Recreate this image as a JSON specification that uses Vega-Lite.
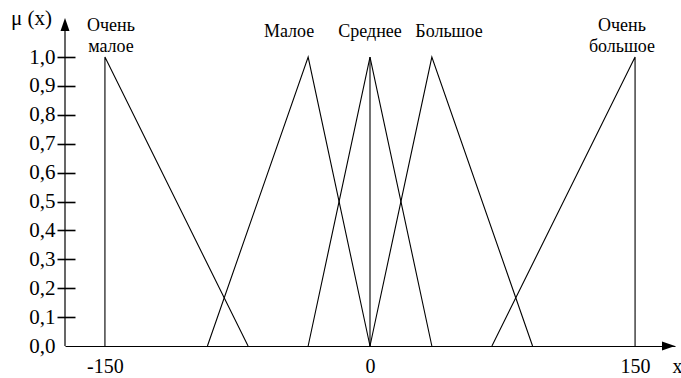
{
  "$schema": "https://vega.github.io/schema/vega-lite/v6.json",
  "width": 610,
  "height": 328,
  "autosize": {"type": "none"},
  "padding": {"left": 65, "top": 18, "right": 6, "bottom": 32},
  "background": "white",
  "config": {
    "view": {"stroke": null},
    "font": "Liberation Serif, Times New Roman, Times, serif",
    "text": {"font": "Liberation Serif, Times New Roman, Times, serif"},
    "axis": {
      "labelFont": "Liberation Serif, Times New Roman, Times, serif",
      "titleFont": "Liberation Serif, Times New Roman, Times, serif",
      "labelColor": "black",
      "titleColor": "black",
      "titleFontWeight": "normal"
    }
  },
  "resolve": {"axis": {"x": "independent", "y": "independent"}},
  "datasets": {
    "terms": [
      {"term": "Очень малое", "seg": "vm", "step": 1, "x": -150, "mu": 0},
      {"term": "Очень малое", "seg": "vm", "step": 2, "x": -150, "mu": 1},
      {"term": "Очень малое", "seg": "vm", "step": 3, "x": -69, "mu": 0},
      {"term": "Малое", "seg": "m", "step": 1, "x": -92, "mu": 0},
      {"term": "Малое", "seg": "m", "step": 2, "x": -35, "mu": 1},
      {"term": "Малое", "seg": "m", "step": 3, "x": 0, "mu": 0},
      {"term": "Среднее", "seg": "s", "step": 1, "x": -35, "mu": 0},
      {"term": "Среднее", "seg": "s", "step": 2, "x": 0, "mu": 1},
      {"term": "Среднее", "seg": "s", "step": 3, "x": 35, "mu": 0},
      {"term": "Среднее", "seg": "s0", "step": 1, "x": 0, "mu": 0},
      {"term": "Среднее", "seg": "s0", "step": 2, "x": 0, "mu": 1},
      {"term": "Большое", "seg": "b", "step": 1, "x": 0, "mu": 0},
      {"term": "Большое", "seg": "b", "step": 2, "x": 35, "mu": 1},
      {"term": "Большое", "seg": "b", "step": 3, "x": 92, "mu": 0},
      {"term": "Очень большое", "seg": "vb", "step": 1, "x": 69, "mu": 0},
      {"term": "Очень большое", "seg": "vb", "step": 2, "x": 150, "mu": 1},
      {"term": "Очень большое", "seg": "vb", "step": 3, "x": 150, "mu": 0}
    ],
    "labels": [
      {"text": "Очень\nмалое", "x": -146.6, "lines": 2},
      {"text": "Малое", "x": -45.8, "lines": 1},
      {"text": "Среднее", "x": 0, "lines": 1},
      {"text": "Большое", "x": 44.7, "lines": 1},
      {"text": "Очень\nбольшое", "x": 142.6, "lines": 2}
    ],
    "axisLine": [
      {"x": -172.6, "mu": 0, "mu2": 1.1}
    ],
    "arrowUp": [
      {"x": -172.6, "mu": 1.135}
    ],
    "arrowRight": [
      {"x": 172.6, "mu": 0}
    ]
  },
  "layer": [
    {
      "data": {"name": "terms"},
      "mark": {"type": "line", "color": "black", "strokeWidth": 1.1, "clip": false},
      "encoding": {
        "x": {
          "field": "x",
          "type": "quantitative",
          "scale": {"domain": [-172.6, 172.6], "nice": false, "zero": false},
          "axis": {
            "values": [-150, 0, 150],
            "labelExpr": "datum.value < 0 ? '-' + abs(datum.value) : '' + datum.value",
            "ticks": false,
            "tickSize": 0,
            "grid": false,
            "domain": true,
            "domainColor": "black",
            "domainWidth": 1.2,
            "labelFontSize": 20,
            "labelPadding": 10,
            "labelFlush": false,
            "labelOverlap": false,
            "title": "x",
            "titleFontSize": 20,
            "titleAnchor": null,
            "titleAlign": "center",
            "titleBaseline": "middle",
            "titleX": 612,
            "titleY": 20
          }
        },
        "y": {
          "field": "mu",
          "type": "quantitative",
          "scale": {"domain": [0, 1.135], "nice": false, "zero": true},
          "axis": {
            "values": [0, 0.1, 0.2, 0.3, 0.4, 0.5, 0.6, 0.7, 0.8, 0.9, 1],
            "labelExpr": "replace(format(datum.value, '.1f'), '.', ',')",
            "labelOverlap": false,
            "offset": -10,
            "tickSize": 18,
            "tickWidth": 1.6,
            "tickColor": "black",
            "tickOpacity": {"condition": {"test": "datum.value == 0", "value": 0}, "value": 1},
            "domain": false,
            "grid": false,
            "labelPadding": 2,
            "labelFontSize": 21,
            "labelBaseline": "middle",
            "title": "μ (x)",
            "titleFontSize": 21,
            "titleAngle": 0,
            "titleAnchor": null,
            "titleAlign": "center",
            "titleBaseline": "middle",
            "titleX": -44,
            "titleY": 0
          }
        },
        "detail": {"field": "seg"},
        "order": {"field": "step"}
      }
    },
    {
      "data": {"name": "axisLine"},
      "mark": {"type": "rule", "color": "black", "strokeWidth": 1.2},
      "encoding": {
        "x": {"field": "x", "type": "quantitative", "axis": null},
        "y": {"field": "mu", "type": "quantitative", "axis": null},
        "y2": {"field": "mu2"}
      }
    },
    {
      "data": {"name": "arrowUp"},
      "mark": {"type": "point", "filled": true, "color": "black", "opacity": 1, "size": 169, "shape": "M0,0L0.69,2L-0.69,2Z", "clip": false},
      "encoding": {
        "x": {"field": "x", "type": "quantitative", "axis": null},
        "y": {"field": "mu", "type": "quantitative", "axis": null}
      }
    },
    {
      "data": {"name": "arrowRight"},
      "mark": {"type": "point", "filled": true, "color": "black", "opacity": 1, "size": 169, "shape": "M0,0L-2,-0.69L-2,0.69Z", "clip": false},
      "encoding": {
        "x": {"field": "x", "type": "quantitative", "axis": null},
        "y": {"field": "mu", "type": "quantitative", "axis": null}
      }
    },
    {
      "data": {"name": "labels"},
      "transform": [{"filter": "datum.lines == 1"}],
      "mark": {"type": "text", "fontSize": 18, "align": "center", "baseline": "middle", "color": "black"},
      "encoding": {
        "x": {"field": "x", "type": "quantitative", "axis": null},
        "y": {"datum": 1.088, "type": "quantitative", "axis": null},
        "text": {"field": "text"}
      }
    },
    {
      "data": {"name": "labels"},
      "transform": [{"filter": "datum.lines == 2"}],
      "mark": {"type": "text", "fontSize": 18, "lineBreak": "\n", "lineHeight": 21, "align": "center", "baseline": "middle", "dy": -6, "color": "black"},
      "encoding": {
        "x": {"field": "x", "type": "quantitative", "axis": null},
        "y": {"datum": 1.088, "type": "quantitative", "axis": null},
        "text": {"field": "text"}
      }
    }
  ]
}
